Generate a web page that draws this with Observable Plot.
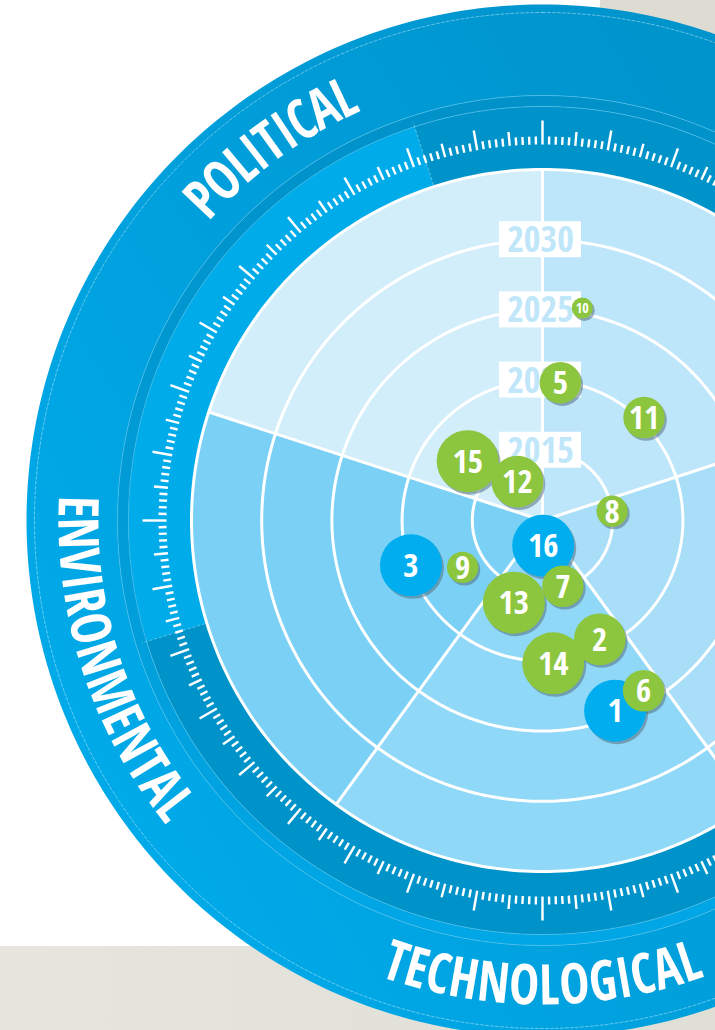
<!DOCTYPE html>
<html><head><meta charset="utf-8">
<script src="https://cdn.jsdelivr.net/npm/d3@7"></script>
<script src="https://cdn.jsdelivr.net/npm/@observablehq/plot@0.6"></script>
<style>
html,body{margin:0;padding:0;background:#fff;}
#chart{width:715px;height:1030px;overflow:hidden;
  background:
    linear-gradient(#dedcd2,#dedcd2) 600px 0 / 115px 80px no-repeat,
    linear-gradient(90deg,#e6e5de,#e0dfd6) 0 946px / 715px 84px no-repeat,
    #ffffff;}
</style></head><body><div id="chart"></div>
<script>
// ---------------- data ----------------
const sectorStart = [0, 72, 144, 216, 288];
const sectorLabel = [null, null, "TECHNOLOGICAL", "ENVIRONMENTAL", "POLITICAL"];
const sectorFill  = ["#bee6fa", "#a8def8", "#8fd8f7", "#7bd0f5", "#d2eefb"];
const ringYears   = [2015, 2020, 2025, 2030];
const yearLabels  = ["2015", "2020", "2025", "2030"];
const yearMin = 2010, yearMax = 2035;

// bubbles, listed in drawing order
const bubbleId     = [3, 9, 8, 11, 5, 10, 2, 14, 1, 6, 13, 7, 16, 15, 12];
const bubbleAngle  = [251.2, 239.6, 82.4, 44.6, 7.4, 10.6, 154.3, 175.7, 159.1, 149.3, 199.2, 162.8, 178.4, 308.4, 327.2];
const bubbleYear   = [2019.9, 2016.6, 2015.0, 2020.3, 2019.9, 2025.4, 2019.4, 2020.2, 2024.5, 2024.1, 2016.2, 2014.9, 2011.8, 2016.8, 2013.3];
const bubbleImpact = [5, 2, 2, 3, 3, 1, 4, 5, 5, 3, 5, 3, 5, 5, 4];
const bubbleType   = ["blue","green","green","green","green","green","green","green","blue","green","green","green","blue","green","green"];
const typeColor = {blue: "#00aeef", green: "#8cc63f"};

// ---------------- layout ----------------
const W = 715, H = 1030, CX = 542, CY = 520;
const FONT = "'Open Sans Condensed','Roboto Condensed','DejaVu Sans Condensed',sans-serif";
const rYear = d3.scaleLinear([yearMin, yearMax], [0, 351]);
const R_PLOT = rYear(yearMax);
const R_TICK_OUT = 414, R_STRIPE = 425, R_OUT = 516, R_TEXT = 466;
const rad = a => a * Math.PI / 180;
const pxX = (r, a) => r * Math.sin(rad(a));
const pxY = (r, a) => r * Math.cos(rad(a));

function band(id, r0, r1, a0, a1, extra = {}) {
  const n = Math.max(2, Math.ceil(Math.abs(a1 - a0)));
  const pts = [];
  for (let i = 0; i <= n; i++) { const a = a0 + (a1 - a0) * i / n; pts.push({id, x: pxX(r1, a), y: pxY(r1, a), ...extra}); }
  for (let i = n; i >= 0; i--) { const a = a0 + (a1 - a0) * i / n; pts.push({id, x: pxX(r0, a), y: pxY(r0, a), ...extra}); }
  return pts;
}
function circle(id, r) {
  const pts = [];
  for (let a = 0; a <= 360; a += 1) pts.push({id, x: pxX(r, a), y: pxY(r, a)});
  return pts;
}

const sectors = sectorStart.flatMap((s, i) => band("s" + i, 0, R_PLOT, s, s + 72, {fill: sectorFill[i]}));
const rings = [...ringYears, yearMax].flatMap(y => circle(y, rYear(y)));
const spokes = sectorStart.map(a => ({x1: 0, y1: 0, x2: pxX(R_PLOT, a), y2: pxY(R_PLOT, a)}));

const labelBand = band("outer", R_STRIPE, R_OUT, 0, 360);
const stripeBand = band("stripe", R_TICK_OUT, R_STRIPE, 0, 360);
const tickBand = band("tick", R_PLOT, R_TICK_OUT, 0, 360);
const HL0 = 253, HL1 = 342;
const highlight = band("hl", R_PLOT + 1, R_TICK_OUT, HL0, HL1);
const hlEdges = [HL0, HL1].map(a => ({x1: pxX(R_PLOT + 2, a), y1: pxY(R_PLOT + 2, a), x2: pxX(R_STRIPE - 6, a), y2: pxY(R_STRIPE - 6, a)}));

const ticks = d3.range(0, 360).map(d => {
  const len = d % 90 === 0 ? 24 : d % 10 === 0 ? 20 : d % 5 === 0 ? 14 : 8;
  const r0 = 376;
  return {x1: pxX(r0, d), y1: pxY(r0, d), x2: pxX(r0 + len, d), y2: pxY(r0 + len, d)};
});

const yearRows = ringYears.map((y, i) => ({label: yearLabels[i], r: rYear(y)}));

const bubbles = bubbleId.map((id, i) => {
  const r = rYear(bubbleYear[i]);
  return {id: String(id), x: pxX(r, bubbleAngle[i]), y: pxY(r, bubbleAngle[i]),
          impact: bubbleImpact[i], color: typeColor[bubbleType[i]],
          fs: bubbleImpact[i] <= 1 ? 14 : 33};
});

// curved category labels, letter by letter (widths measured in an SVG with the same font)
const LABEL_FS = 56, SQUEEZE = 0.9;
const meas = d3.select("body").append("svg").attr("width", 10).attr("height", 10)
  .style("position", "absolute").style("left", "-9999px");
const mText = meas.append("text").attr("font-family", FONT).attr("font-weight", "bold").attr("font-size", LABEL_FS);
function charWidth(c) { mText.text(c); return mText.node().getComputedTextLength(); }
const letters = [];
sectorLabel.forEach((label, i) => {
  if (!label) return;
  const thetaC = sectorStart[i] + 36;
  const outward = Math.cos(rad(thetaC)) > 0;  // upper half reads clockwise
  const chars = [...label];
  const widths = chars.map(c => charWidth(c) * SQUEEZE);
  const total = d3.sum(widths);
  let cum = 0;
  chars.forEach((c, j) => {
    const mid = cum + widths[j] / 2; cum += widths[j];
    const off = (mid - total / 2) / R_TEXT * 180 / Math.PI;
    const th = outward ? thetaC + off : thetaC - off;
    letters.push({c, x: pxX(R_TEXT, th), y: pxY(R_TEXT, th), rot: outward ? th : th - 180});
  });
});
meas.remove();

// ---------------- plot ----------------
const plot = Plot.plot({
  width: W, height: H, margin: 0,
  style: {background: "transparent", overflow: "hidden"},
  x: {domain: [-CX, W - CX], axis: null},
  y: {domain: [CY - H, CY], axis: null},
  r: {type: "linear", domain: [1, 5], range: [10.5, 31]},
  color: {type: "identity"},
  marks: [
    Plot.line(labelBand, {x: "x", y: "y", z: "id", fill: "url(#bandGrad)", stroke: "none"}),
    Plot.line(stripeBand, {x: "x", y: "y", z: "id", fill: "url(#stripeGrad)", stroke: "none"}),
    Plot.line(tickBand, {x: "x", y: "y", z: "id", fill: "#0093c9", stroke: "none"}),
    Plot.line(highlight, {x: "x", y: "y", z: "id", fill: "#00abea", stroke: "none"}),
    Plot.line(circle("c1", R_TICK_OUT), {x: "x", y: "y", stroke: "#4dbfea", strokeWidth: 1, strokeOpacity: 0.7}),
    Plot.line(circle("c2", R_STRIPE), {x: "x", y: "y", stroke: "#4dbfea", strokeWidth: 1, strokeOpacity: 0.7}),
    Plot.line(circle("c3", R_OUT - 8), {x: "x", y: "y", stroke: "#ffffff", strokeWidth: 0.8, strokeOpacity: 0.5, strokeDasharray: "3,2"}),
    Plot.link(hlEdges, {x1: "x1", y1: "y1", x2: "x2", y2: "y2", stroke: "#ffffff", strokeOpacity: 0.45, strokeWidth: 0.8, strokeDasharray: "3,2"}),
    Plot.link(ticks, {x1: "x1", y1: "y1", x2: "x2", y2: "y2", stroke: "#ffffff", strokeWidth: 2.4}),
    Plot.line(sectors, {x: "x", y: "y", z: "id", fill: "fill", stroke: "none"}),
    Plot.line(rings, {x: "x", y: "y", z: "id", stroke: "#ffffff", strokeWidth: 3, fill: "none"}),
    Plot.link(spokes, {x1: "x1", y1: "y1", x2: "x2", y2: "y2", stroke: "#ffffff", strokeWidth: 3}),
    Plot.rect(yearRows, {x1: () => -43, x2: () => 39, y1: d => d.r - 18, y2: d => d.r + 18, fill: "#ffffff"}),
    Plot.text(yearRows, {x: () => 0, y: "r", dx: -2, dy: 1, text: "label", fill: "#c0e6fa", fontSize: 36, fontWeight: "bold", fontFamily: FONT}),
    Plot.dot(bubbles, {x: "x", y: "y", r: "impact", dx: 2, dy: 2.5, fill: "#56707f", fillOpacity: 0.55, stroke: "none"}),
    Plot.dot(bubbles, {x: "x", y: "y", r: "impact", fill: "color", stroke: "none"}),
    Plot.text(bubbles, {x: "x", y: "y", text: "id", fill: "#ffffff", fontSize: "fs", fontWeight: "bold", fontFamily: FONT, dy: 1}),
    Plot.text(letters, {x: "x", y: "y", text: "c", rotate: "rot", fill: "#ffffff", fontSize: LABEL_FS, fontWeight: "bold", fontFamily: FONT, lineAnchor: "middle"})
  ]
});

const svg = d3.select(plot);
const defs = svg.append("defs");
const g1 = defs.append("linearGradient").attr("id", "bandGrad").attr("gradientUnits", "userSpaceOnUse")
  .attr("x1", 0).attr("y1", 600).attr("x2", 715).attr("y2", 150);
g1.append("stop").attr("offset", 0).attr("stop-color", "#00a9e8");
g1.append("stop").attr("offset", 1).attr("stop-color", "#0094cd");
const g2 = defs.append("linearGradient").attr("id", "stripeGrad").attr("gradientUnits", "userSpaceOnUse")
  .attr("x1", 0).attr("y1", 0).attr("x2", 0).attr("y2", 1030);
g2.append("stop").attr("offset", 0).attr("stop-color", "#008fc5");
g2.append("stop").attr("offset", 1).attr("stop-color", "#00a9e9");
// tighten the glyphs of the curved labels along their own baseline
svg.selectAll('g[aria-label="text"]').filter(function() { return +this.getAttribute("font-size") === LABEL_FS; })
  .selectAll("text").attr("transform", function() {
    return (this.getAttribute("transform") || "") + ` scale(${SQUEEZE},1)`;
  });

document.getElementById("chart").appendChild(plot);
</script>
</body></html>
